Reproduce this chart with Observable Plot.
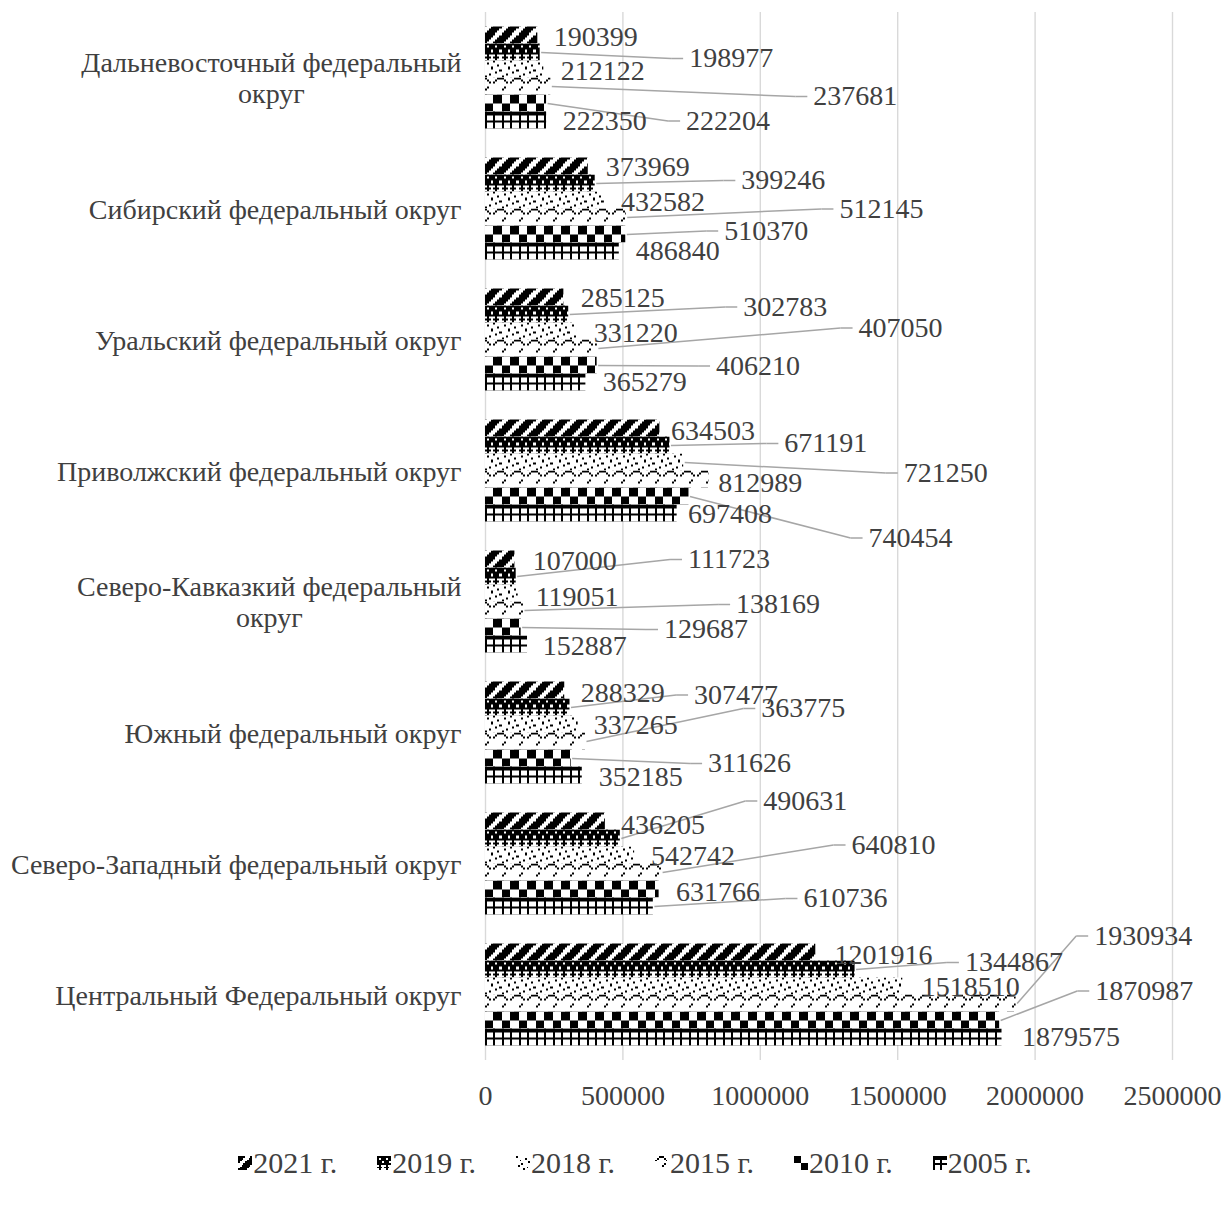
<!DOCTYPE html>
<html><head><meta charset="utf-8">
<script src="https://cdn.jsdelivr.net/npm/d3@7"></script>
<script src="https://cdn.jsdelivr.net/npm/@observablehq/plot@0.6"></script>
<style>
body{margin:0;background:#fff;font-family:"Liberation Serif","Times New Roman",serif;color:#404040}
#legend{display:flex;justify-content:center;align-items:center;gap:40px;font-size:30px;line-height:34px;margin-top:21px;padding-left:42px}
.item{display:flex;align-items:center}
.item svg{margin-right:1px}
</style></head><body>
<svg id="defs" width="0" height="0" style="position:absolute"><defs></defs></svg>
<div id="chart"></div>
<div id="legend"></div>
<script>
// ---- data ----
const regions = [
  "Дальневосточный федеральный округ",
  "Сибирский федеральный округ",
  "Уральский федеральный округ",
  "Приволжский федеральный округ",
  "Северо-Кавказкий федеральный округ",
  "Южный федеральный округ",
  "Северо-Западный федеральный округ",
  "Центральный Федеральный округ"
];
const regionTickLabels = [
  "Дальневосточный федеральный\nокруг",
  "Сибирский федеральный округ",
  "Уральский федеральный округ",
  "Приволжский федеральный округ",
  "Северо-Кавказкий федеральный\nокруг",
  "Южный федеральный округ",
  "Северо-Западный федеральный округ",
  "Центральный Федеральный округ"
];
const years = ["2021 г.", "2019 г.", "2018 г.", "2015 г.", "2010 г.", "2005 г."];
const v2021 = [190399, 373969, 285125, 634503, 107000, 288329, 436205, 1201916];
const v2019 = [198977, 399246, 302783, 671191, 111723, 307477, 490631, 1344867];
const v2018 = [212122, 432582, 331220, 721250, 119051, 337265, 542742, 1518510];
const v2015 = [237681, 512145, 407050, 812989, 138169, 363775, 640810, 1930934];
const v2010 = [222204, 510370, 406210, 740454, 129687, 311626, 631766, 1870987];
const v2005 = [222350, 486840, 365279, 697408, 152887, 352185, 610736, 1879575];
const seriesValues = [v2021, v2019, v2018, v2015, v2010, v2005];
const xTicks = [0, 500000, 1000000, 1500000, 2000000, 2500000];

// ---- data-label layout (label anchor on the value axis, vertical offset, leader line) ----
const labelX = [
  [248000, 438000, 347000, 675000, 171500, 347000, 493000, 1270000],
  [741000, 931000, 938000, 1087600, 737000, 759000, 1011000, 1744500],
  [274000, 493000, 394000, 1522000, 182500, 394000, 602000, 1587600],
  [1193000, 1288000, 1357600, 846700, 912000, 1003600, 1332000, 2215000],
  [730000, 868600, 839000, 1394000, 649600, 810000, 693000, 2219000],
  [281000, 547000, 427000, 737000, 208000, 412000, 1157000, 1952500]
];
const labelDy = [
  [1.5, 1, 0.5, 2.5, 1.5, 3, 3.5, 2.5],
  [6, -3, -7.5, -2, -17, -12.5, -37.5, -7],
  [1.5, 1.5, 1.5, 10.5, 3.5, 0.5, 0.5, 1],
  [10, -8.5, -20.5, 3.5, -6, -33, -27.5, -67.5],
  [17.5, -3.5, 0.5, 41.5, 2, 5, 2.5, -29.5],
  [0.5, -0.5, 0, 0.5, 1.5, 1.5, -8, 0]
];
const hasLeader = [
  [0, 0, 0, 0, 0, 0, 0, 0],
  [1, 1, 1, 1, 1, 1, 1, 1],
  [0, 0, 0, 1, 0, 0, 0, 0],
  [1, 1, 1, 0, 1, 1, 1, 1],
  [1, 1, 1, 1, 1, 1, 0, 1],
  [0, 0, 0, 0, 0, 0, 1, 0]
];

// ---- patterns (8x8 pixel tiles, Excel-like) ----
const tiles = [
  ["11110001","11100011","11000111","10001111","00011111","00111110","01111100","11111000"],
  ["11111111","10111011","11111111","11101110","11111111","01000100","11101110","01000100"],
  ["10000000","00000100","00100000","00000001","00010000","01000000","00000010","00001000"],
  ["00111000","01000100","10000010","00000000","00000100","00001000","00000000","00000000"],
  ["11110000","11110000","11110000","11110000","00001111","00001111","00001111","00001111"],
  ["11111111","11111111","10001000","10001000","11111111","10001000","10001000","10001000"]
];
const NS = "http://www.w3.org/2000/svg";
const defs = document.querySelector("#defs defs");
function makePattern(id, tile, cell) {
  const p = document.createElementNS(NS, "pattern");
  p.setAttribute("id", id);
  p.setAttribute("patternUnits", "userSpaceOnUse");
  p.setAttribute("width", 8 * cell);
  p.setAttribute("height", 8 * cell);
  p.setAttribute("shape-rendering", "crispEdges");
  const bg = document.createElementNS(NS, "rect");
  bg.setAttribute("width", 8 * cell); bg.setAttribute("height", 8 * cell); bg.setAttribute("fill", "#fff");
  p.appendChild(bg);
  tile.forEach((row, r) => [...row].forEach((c, k) => {
    if (c === "1") {
      const q = document.createElementNS(NS, "rect");
      q.setAttribute("x", k * cell); q.setAttribute("y", r * cell);
      q.setAttribute("width", cell); q.setAttribute("height", cell);
      q.setAttribute("fill", "#000");
      p.appendChild(q);
    }
  }));
  defs.appendChild(p);
  return p;
}
const barPatterns = tiles.map((t, j) => makePattern("p" + j, t, 17 / 8));
tiles.forEach((t, j) => makePattern("l" + j, t, 14 / 8));

// ---- table ----
const rows = [];
regions.forEach((region, i) => years.forEach((year, j) => rows.push({
  region, year, value: seriesValues[j][i], pat: `url(#p${j})`,
  labelX: labelX[j][i], dy: labelDy[j][i], leader: !!hasLeader[j][i]
})));
const leaders = rows.filter(d => d.leader);

const shift = (arr, f) => Float64Array.from(arr, f);

const chart = Plot.plot({
  width: 1228,
  height: 1125,
  marginLeft: 485,
  marginRight: 56,
  marginTop: 12,
  marginBottom: 65,
  style: {fontFamily: "'Liberation Serif','Times New Roman',serif", fontSize: "28px", color: "#404040", background: "#fff"},
  x: {domain: [0, 2500000], label: null},
  fy: {domain: regions, padding: 0, label: null},
  y: {domain: years, paddingInner: 0, paddingOuter: 0.853, round: false, axis: null},
  color: {type: "identity"},
  marks: [
    Plot.gridX(xTicks, {stroke: "#d9d9d9", strokeOpacity: 1, strokeWidth: 1.4}),
    Plot.barX(rows, {x: "value", y: "year", fy: "region", fill: "pat"}),
    Plot.link(leaders, {
      x1: "value", x2: "labelX", y1: "year", y2: "year", fy: "region",
      stroke: "#a6a6a6", strokeWidth: 1.5,
      render: (I, s, v, d, c, next) => next(I, s, {...v,
        x1: shift(v.x1, x => x + 1),
        x2: shift(v.x2, x => x - 18),
        y2: shift(v.y2, (y, i) => y + leaders[i].dy)}, d, c)
    }),
    Plot.link(leaders, {
      x1: "labelX", x2: "labelX", y1: "year", y2: "year", fy: "region",
      stroke: "#a6a6a6", strokeWidth: 1.5,
      render: (I, s, v, d, c, next) => next(I, s, {...v,
        x1: shift(v.x1, x => x - 18),
        x2: shift(v.x2, x => x - 6),
        y1: shift(v.y1, (y, i) => y + leaders[i].dy),
        y2: shift(v.y2, (y, i) => y + leaders[i].dy)}, d, c)
    }),
    Plot.text(rows, {
      x: "labelX", y: "year", fy: "region", text: d => String(d.value),
      textAnchor: "start", lineAnchor: "middle", fill: "#404040",
      render: (I, s, v, d, c, next) => next(I, s, {...v, y: shift(v.y, (y, i) => y + rows[i].dy)}, d, c)
    }),
    Plot.axisX({ticks: xTicks, tickSize: 0, tickPadding: 25, tickFormat: d => String(d), label: null}),
    Plot.axisFy({anchor: "left", tickSize: 0, tickPadding: 24, label: null, lineHeight: 1.1,
      tickFormat: r => regionTickLabels[regions.indexOf(r)]})
  ]
});
document.getElementById("chart").appendChild(chart);

// align pattern tiles to bar tops
try {
  const ys = chart.scale("y");
  const off = ys.apply(years[0]);
  barPatterns.forEach(p => p.setAttribute("y", off));
} catch (e) {}

// center wrapped category labels line by line
chart.querySelectorAll('g[aria-label="fy-axis tick label"] text').forEach(t => {
  const spans = t.querySelectorAll("tspan");
  if (spans.length > 1) {
    const b = t.getBBox();
    const cx = b.x + b.width / 2;
    t.setAttribute("text-anchor", "middle");
    spans.forEach(s => s.setAttribute("x", cx));
  }
});

// legend
const legend = document.getElementById("legend");
years.forEach((y, j) => {
  const item = document.createElement("div");
  item.className = "item";
  item.innerHTML = `<svg width="14" height="14"><rect width="14" height="14" fill="url(#l${j})"/></svg><span>${y}</span>`;
  legend.appendChild(item);
});
</script>
</body></html>
